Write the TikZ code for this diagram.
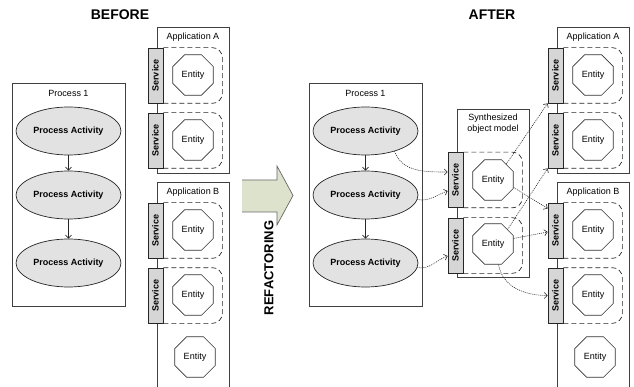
\documentclass[tikz,border=0pt]{standalone}
\usepackage{fontspec}
\setmainfont{Liberation Sans}
\usetikzlibrary{shapes.geometric, arrows.meta}
\definecolor{arrowfill}{RGB}{221,226,205}
\definecolor{actfill}{RGB}{226,226,226}
\definecolor{svcfill}{RGB}{214,214,214}

\begin{document}
\begin{tikzpicture}[
		x=1pt, y=-1pt,
		line width=0.7pt,
		every node/.style={inner sep=0pt, font=\fontsize{9}{11}\selectfont},
		box/.style={rectangle, draw=black!75},
		activity/.style={ellipse, draw=black!85, fill=actfill, minimum width=105pt, minimum height=48pt, font=\fontsize{9}{11}\selectfont\bfseries},
		service/.style={rectangle, draw=black!85, fill=svcfill, minimum width=15pt, minimum height=55pt, font=\fontsize{9}{11}\selectfont\bfseries},
		entity/.style={regular polygon, regular polygon sides=8, draw=black!80, fill=white, minimum size=44pt},
		dashbox/.style={draw=black!85, dash pattern=on 5pt off 3pt, rounded corners=10pt},
		flow/.style={-{Straight Barb[length=3pt, width=6pt]}, draw=black!85},
		dataflow/.style={flow, dash pattern=on 1pt off 1pt, line width=0.6pt},
		heading/.style={font=\fontsize{14}{16}\selectfont\bfseries}
	]
  \useasboundingbox (0,0) rectangle (634,387);

  % before
  \node (before) [heading] at (120,15) {BEFORE};
  \node (procL) [box, minimum width=113pt, minimum height=223pt] at (68.5,194.5) {};
  \node (procL_label) at (68.5,93) {Process 1};
  \node (actL1) [activity] at (68.5,131) {Process Activity};
  \node (actL2) [activity] at (68.5,195) {Process Activity};
  \node (actL3) [activity] at (68.5,263) {Process Activity};
  \draw (actL1) edge [flow] (actL2);
  \draw (actL2) edge [flow] (actL3);

  \node (appLA) [box, minimum width=72pt, minimum height=146pt] at (193,100) {};
  \node (appLA_label) at (193,37) {Application A};
  \node (laS1) [service] at (155.5,75.5) {\rotatebox{90}{Service}};
  \draw [dashbox] (laS1.north east) -- ++(59,0) |- (laS1.south east);
  \node (laE1) [entity] at (193,75) {Entity};
  \node (laS2) [service] at (155.5,140.5) {\rotatebox{90}{Service}};
  \draw [dashbox] (laS2.north east) -- ++(59,0) |- (laS2.south east);
  \node (laE2) [entity] at (193,140) {Entity};

  \draw [black!75] (157,387) |- (229,182) -- (229,387);
  \node (appLB_label) at (193,192) {Application B};
  \node (lbS1) [service] at (155.5,230.5) {\rotatebox{90}{Service}};
  \draw [dashbox] (lbS1.north east) -- ++(59,0) |- (lbS1.south east);
  \node (lbE1) [entity] at (193,230) {Entity};
  \node (lbS2) [service] at (155.5,295.5) {\rotatebox{90}{Service}};
  \draw [dashbox] (lbS2.north east) -- ++(59,0) |- (lbS2.south east);
  \node (lbE2) [entity] at (193,295) {Entity};
  \node (lbE3) [entity] at (195,357) {Entity};

  % refactoring arrow
  \fill [arrowfill] (242,180) -- (277,180) -- (277,166) -- (293,195.5) -- (277,225) -- (277,212) -- (242,212) -- cycle;
  \draw [black!60] (242,180) -- (277,180) -- (277,166) -- (293,195.5) -- (277,225) -- (277,212) -- (242,212);
  \node (refactor) [heading, font=\fontsize{13}{15}\selectfont\bfseries, rotate=90] at (269,268) {REFACTORING};

  % after
  \node (after) [heading] at (492,15) {AFTER};
  \node (procR) [box, minimum width=113pt, minimum height=223pt] at (365.5,194.5) {};
  \node (procR_label) at (365.5,93) {Process 1};
  \node (actR1) [activity] at (365.5,131) {Process Activity};
  \node (actR2) [activity] at (365.5,195) {Process Activity};
  \node (actR3) [activity] at (365.5,263) {Process Activity};
  \draw (actR1) edge [flow] (actR2);
  \draw (actR2) edge [flow] (actR3);

  \node (synth) [box, minimum width=72pt, minimum height=168pt] at (493,193) {};
  \node (synth_label) [align=center] at (493,123.5) {Synthesized\\object model};
  \node (synS1) [service] at (455.5,180) {\rotatebox{90}{Service}};
  \draw [dashbox] (synS1.north east) -- ++(59,0) |- (synS1.south east);
  \node (synE1) [entity] at (493,180) {Entity};
  \node (synS2) [service] at (455.5,245.5) {\rotatebox{90}{Service}};
  \draw [dashbox] (synS2.north east) -- ++(59,0) |- (synS2.south east);
  \node (synE2) [entity] at (493,244) {Entity};

  \node (appRA) [box, minimum width=72pt, minimum height=146pt] at (593,100) {};
  \node (appRA_label) at (593,37) {Application A};
  \node (raS1) [service] at (555.5,75.5) {\rotatebox{90}{Service}};
  \draw [dashbox] (raS1.north east) -- ++(59,0) |- (raS1.south east);
  \node (raE1) [entity] at (593,75) {Entity};
  \node (raS2) [service] at (555.5,140.5) {\rotatebox{90}{Service}};
  \draw [dashbox] (raS2.north east) -- ++(59,0) |- (raS2.south east);
  \node (raE2) [entity] at (593,140) {Entity};

  \draw [black!75] (557,387) |- (629,182) -- (629,387);
  \node (appRB_label) at (593,192) {Application B};
  \node (rbS1) [service] at (555.5,230.5) {\rotatebox{90}{Service}};
  \draw [dashbox] (rbS1.north east) -- ++(59,0) |- (rbS1.south east);
  \node (rbE1) [entity] at (593,230) {Entity};
  \node (rbS2) [service] at (555.5,295.5) {\rotatebox{90}{Service}};
  \draw [dashbox] (rbS2.north east) -- ++(59,0) |- (rbS2.south east);
  \node (rbE2) [entity] at (593,295) {Entity};
  \node (rbE3) [entity] at (595,357) {Entity};

  % calls into the synthesized model
  \draw (actR1.-35) edge [dataflow, out=-70, in=180] ([yshift=8pt]synS1.west);
  \draw (actR2.-5) edge [dataflow, out=-10, in=200] ([yshift=-11pt]synS1.west);
  \draw (actR3.-5) edge [dataflow, out=-10, in=200] ([yshift=-10.5pt]synS2.west);
  \draw (synE1.50) edge [dataflow] (raS1.south west);
  \draw (synE1.-20) edge [dataflow] ([yshift=22pt]rbS1.west);
  \draw (synE2.45) edge [dataflow] (raS2.south west);
  \draw (synE2.15) edge [dataflow] ([yshift=-1.5pt]rbS1.west);
  \draw (synE2.-75) edge [dataflow, out=-80, in=180] (rbS2.west);
\end{tikzpicture}
\end{document}
